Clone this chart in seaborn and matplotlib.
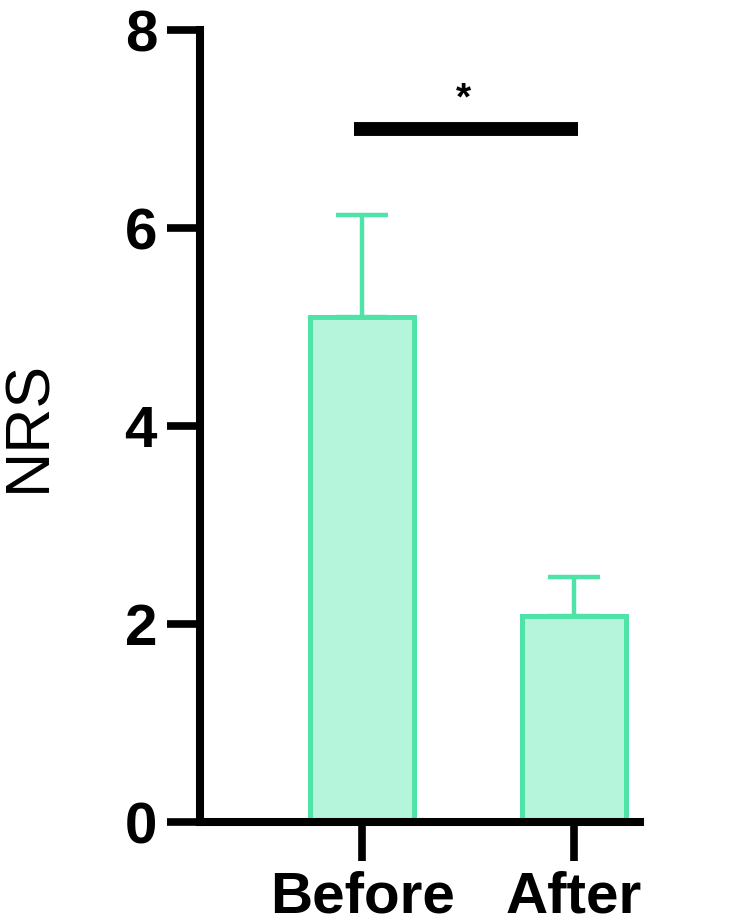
import matplotlib
matplotlib.use("Agg")
import matplotlib.pyplot as plt
import seaborn as sns
import numpy as np
import pandas as pd

categories = ["Before", "After"]
means = [5.1, 2.08]
errors = [1.03, 0.40]
sig_y = 7.0
sig_label = "*"
y_ticks = [0, 2, 4, 6, 8]
y_label = "NRS"

fill_color = "#b4f5dc"
edge_color = "#4fe3a8"

sns.set_theme(style="ticks")
plt.rcParams["font.family"] = ["Liberation Sans", "DejaVu Sans"]
plt.rcParams["text.color"] = "black"
plt.rcParams["axes.labelcolor"] = "black"
plt.rcParams["xtick.color"] = "black"
plt.rcParams["ytick.color"] = "black"

fig = plt.figure(figsize=(7.44, 9.24), dpi=100)
ax = fig.add_axes([0.269, 0.110, 0.591, 0.8575])

df = pd.DataFrame({"cond": categories, "val": means})
sns.barplot(data=df, x="cond", y="val", ax=ax, width=0.49,
            color=fill_color, edgecolor=edge_color, linewidth=3.6,
            saturation=1, errorbar=None)

xs = np.arange(len(categories))
ax.errorbar(xs, means, yerr=[np.zeros(len(errors)), errors], fmt="none",
            ecolor=edge_color, elinewidth=3.2, capsize=19, capthick=3.2, zorder=1)

ax.plot([-0.04, 1.02], [sig_y, sig_y], color="black", lw=10, solid_capstyle="butt", clip_on=False)
ax.text(0.477, sig_y + 0.12, sig_label, ha="center", va="bottom", fontsize=28, fontweight="bold",
        color="black")

ax.set_xlim(-0.765, 1.31)
ax.set_ylim(0, 8)
ax.set_yticks(y_ticks)
ax.set_xlabel("")
ax.set_ylabel(y_label, fontsize=45, labelpad=48, color="black")

for s in ["top", "right"]:
    ax.spines[s].set_visible(False)
for s in ["left", "bottom"]:
    ax.spines[s].set_linewidth(5.8)
    ax.spines[s].set_color("black")

ax.tick_params(axis="y", length=24, width=5.5, pad=7, labelsize=42, colors="black")
ax.tick_params(axis="x", length=28, width=5.5, pad=7, labelsize=42, colors="black")
for lab in ax.get_xticklabels() + ax.get_yticklabels():
    lab.set_fontweight("bold")
    lab.set_color("black")

fig.savefig("out.png", dpi=100)
